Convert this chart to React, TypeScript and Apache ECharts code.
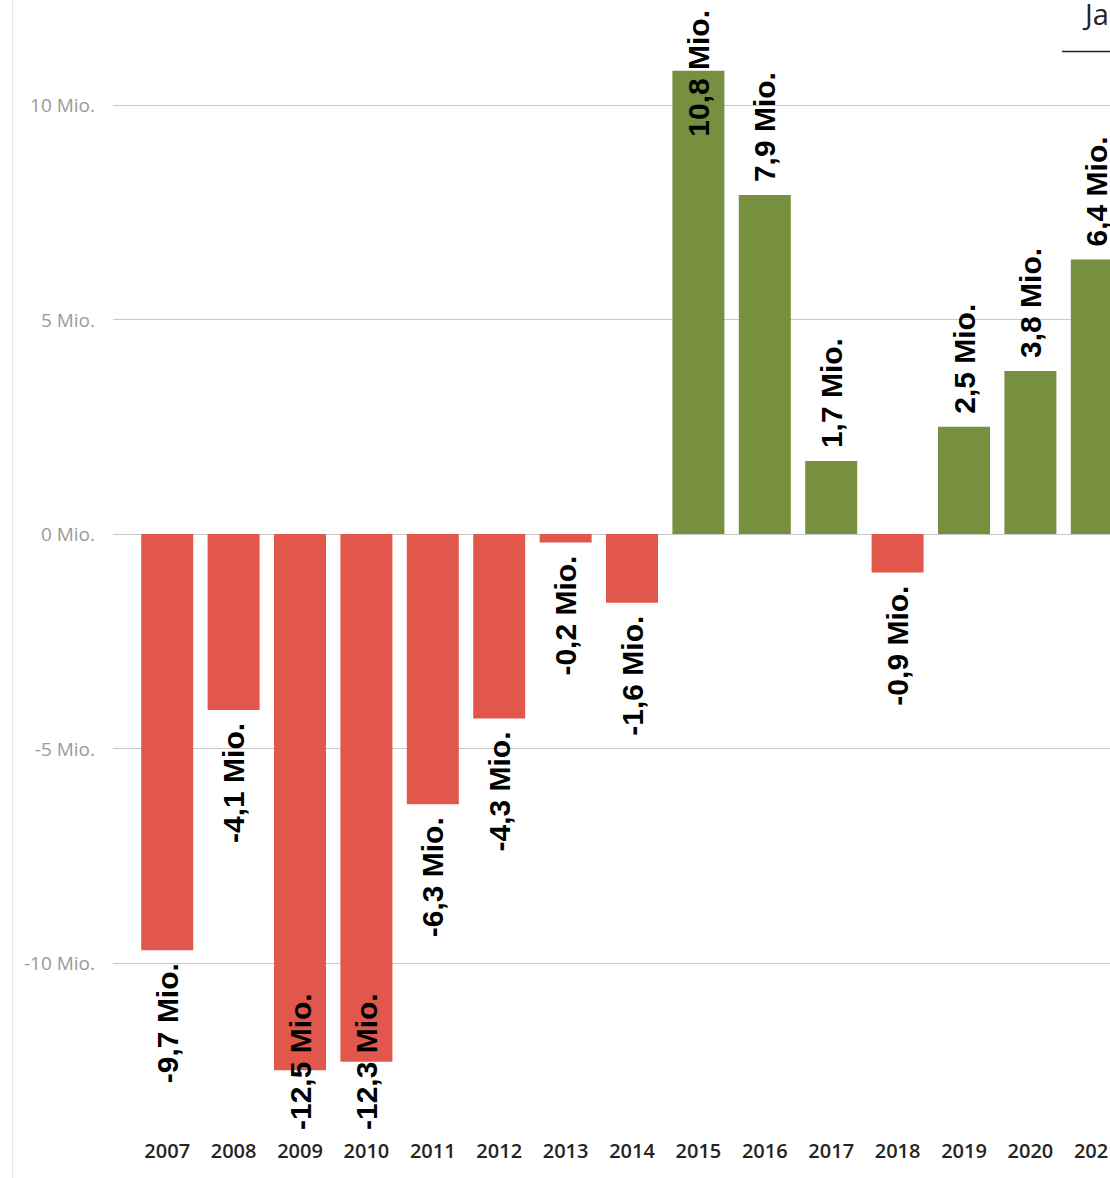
import React, { useEffect, useRef } from "react";
import * as echarts from "echarts";

const years = ["2007", "2008", "2009", "2010", "2011", "2012", "2013", "2014", "2015", "2016", "2017", "2018", "2019", "2020", "2021"];
const values = [-9.7, -4.1, -12.5, -12.3, -6.3, -4.3, -0.2, -1.6, 10.8, 7.9, 1.7, -0.9, 2.5, 3.8, 6.4];
const yMin = -14;
const yMax = 12;
const headerText = "Jahr";

const RED = "#E1574B";
const GREEN = "#76903F";

const fmtLabel = (v: number) => `${v.toFixed(1).replace(".", ",")} Mio.`;
const fmtAxis = (v: number) => `${v} Mio.`;

export default function App() {
  const ref = useRef<HTMLDivElement>(null);

  useEffect(() => {
    document.body.style.margin = "0";
    document.body.style.overflow = "hidden";
    if (!ref.current) return;
    const chart = echarts.init(ref.current, undefined, { renderer: "svg" });
    const H = 1178;
    const top = 19.2;
    const bottom = 43.4;
    chart.setOption({
      animation: false,
      backgroundColor: "#ffffff",
      grid: [
        { left: 113, right: 0, top, bottom, containLabel: false },
        { left: 134, width: 996, top, bottom, containLabel: false },
      ],
      xAxis: [
        { type: "category", gridIndex: 0, data: years, show: false },
        {
          type: "category",
          gridIndex: 1,
          data: years,
          axisLine: { show: false },
          axisTick: { show: false },
          axisLabel: {
            color: "#252423",
            fontFamily: "'Segoe UI', 'Open Sans', sans-serif",
            fontWeight: 600,
            fontSize: 20,
            margin: 6,
          },
        },
      ],
      yAxis: [
        {
          type: "value",
          gridIndex: 0,
          min: yMin,
          max: yMax,
          axisLine: { show: false },
          axisTick: { show: false },
          axisLabel: {
            color: "#9a9a9a",
            fontFamily: "'Segoe UI', 'Open Sans', sans-serif",
            fontSize: 19,
            margin: 18,
            showMinLabel: false,
            showMaxLabel: false,
            formatter: (v: number) => (v % 5 === 0 ? fmtAxis(v) : ""),
          },
          splitLine: {
            show: true,
            showMinLine: false,
            showMaxLine: false,
            lineStyle: { color: "#c8c8c8", width: 1 },
          },
        },
        { type: "value", gridIndex: 1, min: yMin, max: yMax, show: false, splitLine: { show: false } },
      ],
      series: [
        {
          type: "bar",
          xAxisIndex: 1,
          yAxisIndex: 1,
          barWidth: 52,
          data: values.map((v) => ({
            value: v,
            itemStyle: { color: v >= 0 ? GREEN : RED },
            label: v >= 0 ? { position: "top", align: "left" } : { position: "bottom", align: "right" },
          })),
          label: {
            show: true,
            rotate: 90,
            verticalAlign: "middle",
            distance: 13,
            color: "#000000",
            fontFamily: "'Liberation Sans', Arial, sans-serif",
            fontWeight: "bold",
            fontSize: 30,
            formatter: (p: any) => fmtLabel(p.value),
          },
          labelLayout: (p: any) => {
            const r = p.labelRect;
            // rotated label: local +x points up on screen
            if (r.y < 10) return { dx: -(10 - r.y) };
            if (r.y + r.height > H - 48) return { dx: r.y + r.height - (H - 48) };
            return {};
          },
        },
      ],
      graphic: [
        {
          type: "line",
          shape: { x1: 12.5, y1: 0, x2: 12.5, y2: H },
          style: { stroke: "#e6e6e6", lineWidth: 1 },
          silent: true,
        },
        {
          type: "text",
          x: 1085,
          y: 28,
          style: {
            text: headerText,
            fontSize: 29,
            fontFamily: "'Segoe UI', 'Open Sans', sans-serif",
            fill: "#252423",
            verticalAlign: "bottom",
            align: "left",
          },
          silent: true,
        },
        {
          type: "line",
          shape: { x1: 1062, y1: 51.5, x2: 1250, y2: 51.5 },
          style: { stroke: "#252423", lineWidth: 1.5 },
          silent: true,
        },
      ],
    });
    return () => chart.dispose();
  }, []);

  return (
    <div style={{ width: 1110, height: 1178, overflow: "hidden", position: "relative" }}>
      <div ref={ref} style={{ width: 1250, height: 1178 }} />
    </div>
  );
}
